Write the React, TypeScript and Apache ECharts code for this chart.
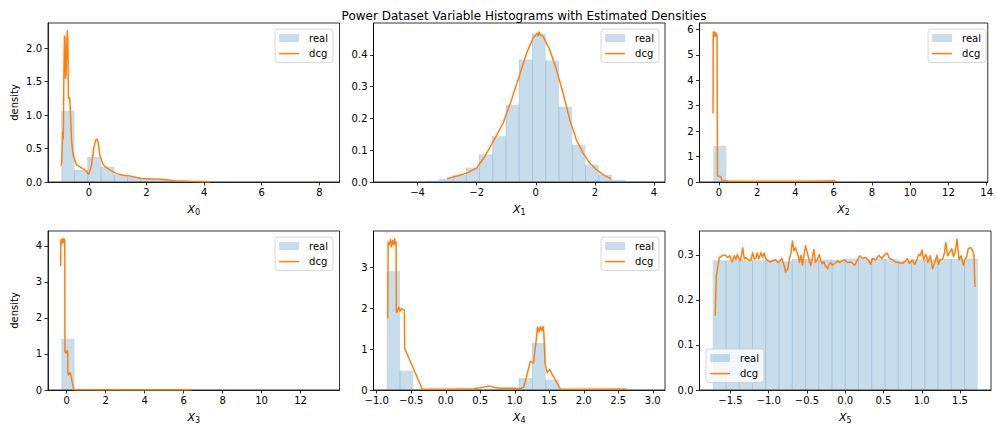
import React, { useEffect, useRef } from "react";
import * as echarts from "echarts";

const TITLE = "Power Dataset Variable Histograms with Estimated Densities";
const VAR_SUBS = ["0", "1", "2", "3", "4", "5"];

// axis ranges
const X_RANGES = [
  [-1.42, 8.7],
  [-5.49, 4.37],
  [-1.02, 14.06],
  [-0.96, 14.0],
  [-1.047, 3.177],
  [-1.905, 1.905],
];
const Y_MAX = [2.375, 0.5, 6.25, 4.41, 3.89, 0.353];

// tick labels
const X_TICKS = [
  [0, 2, 4, 6, 8],
  [-4, -2, 0, 2, 4],
  [0, 2, 4, 6, 8, 10, 12, 14],
  [0, 2, 4, 6, 8, 10, 12],
  [-1.0, -0.5, 0.0, 0.5, 1.0, 1.5, 2.0, 2.5, 3.0],
  [-1.5, -1.0, -0.5, 0.0, 0.5, 1.0, 1.5],
];
const X_DEC = [0, 0, 0, 0, 1, 1];
const Y_TICKS = [
  [0, 0.5, 1.0, 1.5, 2.0],
  [0, 0.1, 0.2, 0.3, 0.4],
  [0, 1, 2, 3, 4, 5, 6],
  [0, 1, 2, 3, 4],
  [0, 1, 2, 3],
  [0, 0.1, 0.2, 0.3],
];
const Y_DEC = [1, 1, 0, 0, 0, 1];

// histogram bins (20 bins each): first edge, bin width, heights
const BIN_START = [-0.96, -5.04, -0.3, -0.28, -0.855, -1.732];
const BIN_WIDTH = [0.46, 0.448, 0.685, 0.68, 0.192, 0.1732];

const REAL_0 = [1.065, 0.18, 0.375, 0.228, 0.11, 0.075, 0.045, 0.03, 0.02, 0.012, 0.006, 0.003, 0.002, 0.001, 0.001, 0.0005, 0.0003, 0.0002, 0.0001, 0.0001];
const REAL_1 = [0.0002, 0.0005, 0.001, 0.004, 0.01, 0.023, 0.045, 0.087, 0.144, 0.243, 0.385, 0.467, 0.382, 0.237, 0.117, 0.055, 0.023, 0.007, 0.002, 0.0005];
const REAL_2 = [1.42, 0.025, 0.012, 0.006, 0.004, 0.003, 0.002, 0.002, 0.001, 0.001, 0.001, 0.0005, 0.0005, 0.0005, 0.0003, 0.0003, 0.0002, 0.0002, 0.0001, 0.0001];
const REAL_3 = [1.42, 0.005, 0.002, 0.002, 0.001, 0.001, 0.001, 0.001, 0.0008, 0.0008, 0.0006, 0.0006, 0.0005, 0.0005, 0.0004, 0.0004, 0.0003, 0.0003, 0.0002, 0.0002];
const REAL_4 = [2.91, 0.475, 0.005, 0.003, 0.002, 0.003, 0.008, 0.02, 0.015, 0.01, 0.29, 1.15, 0.25, 0.005, 0.003, 0.002, 0.002, 0.002, 0.001, 0.001];
const REAL_5 = [0.288, 0.288, 0.289, 0.288, 0.289, 0.286, 0.291, 0.291, 0.29, 0.289, 0.292, 0.291, 0.292, 0.291, 0.287, 0.29, 0.29, 0.291, 0.291, 0.292];

// estimated densities [x, density]
const DCG_0 = [
  [-0.97, 0.245], [-0.94, 0.3], [-0.91, 0.75], [-0.89, 0.65], [-0.87, 1.5], [-0.85, 2.18], [-0.83, 2.15],
  [-0.81, 1.55], [-0.79, 1.6], [-0.77, 2.0], [-0.75, 2.26], [-0.73, 2.1], [-0.71, 1.25], [-0.68, 1.26],
  [-0.66, 1.23], [-0.6, 0.6], [-0.545, 0.4], [-0.43, 0.255], [-0.31, 0.225], [-0.14, 0.18], [0.0, 0.115],
  [0.09, 0.255], [0.17, 0.505], [0.24, 0.63], [0.28, 0.64], [0.32, 0.6], [0.38, 0.4], [0.475, 0.28],
  [0.555, 0.23], [0.73, 0.18], [0.96, 0.125], [1.19, 0.1], [1.42, 0.09], [1.77, 0.055], [2.0, 0.05],
  [2.5, 0.04], [3.0, 0.02], [3.5, 0.01], [4.2, 0.005],
];
const DCG_1 = [
  [-3.0, 0.01], [-2.69, 0.018], [-2.34, 0.028], [-2.0, 0.044], [-1.72, 0.081], [-1.44, 0.128],
  [-1.1, 0.186], [-0.82, 0.259], [-0.54, 0.338], [-0.31, 0.406], [-0.09, 0.453], [0.0, 0.462],
  [0.05, 0.468], [0.08, 0.46], [0.11, 0.472], [0.15, 0.463], [0.25, 0.458], [0.47, 0.416],
  [0.7, 0.353], [0.92, 0.28], [1.15, 0.196], [1.37, 0.133], [1.6, 0.091], [1.82, 0.06],
  [2.05, 0.039], [2.27, 0.023], [2.55, 0.01],
];
const DCG_2 = [
  [-0.31, 2.7], [-0.3, 5.9], [-0.285, 5.75], [-0.27, 5.92], [-0.255, 5.78], [-0.24, 5.88], [-0.225, 5.72],
  [-0.21, 5.85], [-0.195, 5.8], [-0.18, 5.87], [-0.165, 5.75], [-0.15, 5.83], [-0.13, 5.8], [-0.1, 5.78],
  [-0.08, 0.24], [0.0, 0.22], [0.09, 0.22], [0.155, 0.06], [0.5, 0.04], [2.0, 0.03], [4.0, 0.03],
  [5.5, 0.04], [6.1, 0.05],
];
const DCG_3 = [
  [-0.31, 3.43], [-0.3, 4.12], [-0.28, 4.18], [-0.26, 4.05], [-0.24, 4.17], [-0.22, 4.1], [-0.2, 4.19],
  [-0.18, 4.08], [-0.16, 4.15], [-0.14, 4.2], [-0.12, 4.12], [-0.1, 4.17], [-0.09, 1.1], [-0.06, 1.03],
  [-0.03, 1.08], [0.0, 1.02], [0.03, 1.09], [0.05, 1.05], [0.06, 0.45], [0.09, 0.42], [0.12, 0.48],
  [0.15, 0.43], [0.18, 0.47], [0.2, 0.44], [0.36, 0.01], [1.0, 0.004], [3.0, 0.003], [5.0, 0.003], [6.4, 0.002],
];
const DCG_4 = [
  [-0.84, 1.75], [-0.835, 3.62], [-0.82, 3.55], [-0.8, 3.68], [-0.79, 3.5], [-0.77, 3.66], [-0.76, 3.56],
  [-0.74, 3.7], [-0.73, 3.55], [-0.72, 3.62], [-0.715, 1.9], [-0.7, 1.95], [-0.68, 2.02], [-0.66, 1.93],
  [-0.64, 2.0], [-0.62, 1.97], [-0.6, 1.96], [-0.595, 1.02], [-0.34, 0.02], [0.0, 0.02], [0.4, 0.03],
  [0.55, 0.07], [0.63, 0.1], [0.7, 0.06], [0.8, 0.04], [1.0, 0.04], [1.08, 0.03], [1.13, 0.07],
  [1.18, 0.39], [1.225, 0.7], [1.27, 0.655], [1.31, 1.21], [1.33, 1.54], [1.35, 1.42], [1.37, 1.55],
  [1.39, 1.45], [1.41, 1.55], [1.42, 1.44], [1.44, 0.64], [1.47, 0.43], [1.51, 0.5], [1.54, 0.39],
  [1.57, 0.3], [1.66, 0.025], [2.0, 0.02], [2.62, 0.025],
];
const DCG_5 = [
  [-1.7, 0.165], [-1.685, 0.253], [-1.647, 0.294], [-1.613, 0.298], [-1.57, 0.3], [-1.54, 0.294], [-1.51, 0.298],
  [-1.48, 0.284], [-1.45, 0.298], [-1.43, 0.289], [-1.41, 0.301], [-1.39, 0.292], [-1.37, 0.287], [-1.34, 0.316],
  [-1.32, 0.291], [-1.3, 0.294], [-1.28, 0.291], [-1.25, 0.287], [-1.23, 0.289], [-1.21, 0.305], [-1.19, 0.291],
  [-1.17, 0.292], [-1.15, 0.304], [-1.13, 0.291], [-1.1, 0.305], [-1.08, 0.294], [-1.06, 0.304], [-1.04, 0.292],
  [-1.01, 0.287], [-0.98, 0.284], [-0.95, 0.287], [-0.91, 0.289], [-0.88, 0.283], [-0.85, 0.287], [-0.83, 0.292],
  [-0.8, 0.277], [-0.78, 0.262], [-0.75, 0.269], [-0.73, 0.291], [-0.71, 0.304], [-0.69, 0.331], [-0.67, 0.309],
  [-0.65, 0.316], [-0.62, 0.301], [-0.6, 0.283], [-0.58, 0.299], [-0.56, 0.277], [-0.54, 0.298], [-0.52, 0.32],
  [-0.49, 0.301], [-0.47, 0.287], [-0.45, 0.276], [-0.43, 0.294], [-0.41, 0.312], [-0.39, 0.283], [-0.36, 0.291],
  [-0.34, 0.301], [-0.32, 0.287], [-0.3, 0.28], [-0.28, 0.285], [-0.26, 0.276], [-0.23, 0.269], [-0.21, 0.28],
  [-0.19, 0.283], [-0.17, 0.277], [-0.13, 0.282], [-0.1, 0.287], [-0.078, 0.283], [-0.013, 0.289], [0.03, 0.283],
  [0.074, 0.284], [0.125, 0.277], [0.16, 0.289], [0.19, 0.298], [0.225, 0.292], [0.268, 0.294], [0.311, 0.286],
  [0.333, 0.279], [0.355, 0.292], [0.398, 0.289], [0.441, 0.299], [0.476, 0.292], [0.519, 0.301], [0.549, 0.304],
  [0.571, 0.294], [0.614, 0.289], [0.657, 0.284], [0.7, 0.283], [0.744, 0.281], [0.787, 0.286], [0.809, 0.292],
  [0.839, 0.281], [0.873, 0.289], [0.908, 0.279], [0.938, 0.29], [0.96, 0.301], [0.981, 0.298], [1.003, 0.311],
  [1.025, 0.289], [1.055, 0.301], [1.081, 0.283], [1.111, 0.298], [1.142, 0.269], [1.176, 0.286], [1.198, 0.299],
  [1.219, 0.279], [1.241, 0.289], [1.271, 0.29], [1.297, 0.304], [1.314, 0.327], [1.34, 0.298], [1.371, 0.307],
  [1.392, 0.314], [1.414, 0.296], [1.435, 0.305], [1.461, 0.335], [1.487, 0.289], [1.513, 0.298], [1.544, 0.277],
  [1.565, 0.29], [1.587, 0.296], [1.608, 0.314], [1.643, 0.316], [1.665, 0.309], [1.682, 0.301], [1.695, 0.229],
];

const REAL = [REAL_0, REAL_1, REAL_2, REAL_3, REAL_4, REAL_5];
const DCG = [DCG_0, DCG_1, DCG_2, DCG_3, DCG_4, DCG_5];

// layout
const GRID_LEFT = [48, 373.5, 699.5];
const GRID_TOP = [23, 231];
const GRID_W = 291.5;
const GRID_H = 159;
const FONT = "DejaVu Sans";
const BAR_COLOR = "rgba(31,119,180,0.25)";
const BAR_EDGE = "rgba(31,119,180,0.22)";
const LINE_COLOR = "#ff7f0e";
const LEGEND_POS = [
  { right: 663, top: 29 },
  { right: 337, top: 29 },
  { right: 10, top: 29 },
  { right: 663, top: 237 },
  { right: 337, top: 237 },
  { left: 706, top: 349 },
];

function fmt(v: number, d: number) {
  const s = Number(v).toFixed(d);
  return s.replace("-", "\u2212");
}

export default function App() {
  const ref = useRef<HTMLDivElement>(null);
  useEffect(() => {
    if (!ref.current) return;
    const chart = echarts.init(ref.current, null, { renderer: "svg" });
    const grids: any[] = [];
    const xAxes: any[] = [];
    const yAxes: any[] = [];
    const series: any[] = [];
    const legends: any[] = [];
    for (let i = 0; i < 6; i++) {
      const row = Math.floor(i / 3);
      const col = i % 3;
      grids.push({
        left: GRID_LEFT[col],
        top: GRID_TOP[row],
        width: GRID_W,
        height: GRID_H,
        show: true,
        borderColor: "#000",
        borderWidth: 0.8,
        backgroundColor: "transparent",
      });
      const xd = X_DEC[i];
      const yd = Y_DEC[i];
      xAxes.push({
        type: "value",
        gridIndex: i,
        min: X_RANGES[i][0],
        max: X_RANGES[i][1],
        name: `{i|X}{s|${VAR_SUBS[i]}}`,
        nameLocation: "middle",
        nameGap: 20,
        nameTextStyle: {
          rich: {
            i: { fontStyle: "italic", fontSize: 11, fontFamily: FONT, color: "#000", lineHeight: 14 },
            s: { fontSize: 8, fontFamily: FONT, color: "#000", lineHeight: 8, verticalAlign: "bottom" },
          },
        },
        splitLine: { show: false },
        axisLine: { show: true, onZero: false, lineStyle: { color: "#000", width: 0.8 } },
        axisTick: { show: true, length: 3.5, customValues: X_TICKS[i], lineStyle: { color: "#000", width: 0.8 } },
        axisLabel: {
          customValues: X_TICKS[i],
          fontSize: 10,
          fontFamily: FONT,
          color: "#000",
          margin: 5,
          formatter: (v: number) => fmt(v, xd),
        },
      });
      yAxes.push({
        type: "value",
        gridIndex: i,
        min: 0,
        max: Y_MAX[i],
        name: col === 0 ? "density" : "",
        nameLocation: "middle",
        nameGap: 29,
        nameTextStyle: { fontSize: 10, fontFamily: FONT, color: "#000" },
        splitLine: { show: false },
        axisLine: { show: true, onZero: false, lineStyle: { color: "#000", width: 0.8 } },
        axisTick: { show: true, length: 3.5, customValues: Y_TICKS[i], lineStyle: { color: "#000", width: 0.8 } },
        axisLabel: {
          customValues: Y_TICKS[i],
          fontSize: 10,
          fontFamily: FONT,
          color: "#000",
          margin: 6,
          formatter: (v: number) => fmt(v, yd),
        },
      });
      const bins = REAL[i].map((h, k) => [
        BIN_START[i] + k * BIN_WIDTH[i],
        BIN_START[i] + (k + 1) * BIN_WIDTH[i],
        h,
      ]);
      series.push({
        name: "real",
        type: "custom",
        xAxisIndex: i,
        yAxisIndex: i,
        data: bins,
        encode: { x: [0, 1], y: 2 },
        itemStyle: { color: BAR_COLOR },
        z: 1,
        renderItem: (params: any, api: any) => {
          const p0 = api.coord([api.value(0), api.value(2)]);
          const p1 = api.coord([api.value(1), 0]);
          const children: any[] = [
            {
              type: "rect",
              shape: { x: p0[0], y: p0[1], width: p1[0] - p0[0], height: p1[1] - p0[1] },
              style: { fill: BAR_COLOR },
            },
          ];
          if (params.dataIndex > 0 && p1[1] - p0[1] > 1) {
            children.push({
              type: "line",
              shape: { x1: p0[0], y1: p0[1], x2: p0[0], y2: p1[1] },
              style: { stroke: BAR_EDGE, lineWidth: 1 },
            });
          }
          return { type: "group", children };
        },
      });
      series.push({
        name: "dcg",
        type: "line",
        xAxisIndex: i,
        yAxisIndex: i,
        data: DCG[i],
        symbol: "none",
        showSymbol: false,
        z: 3,
        itemStyle: { color: LINE_COLOR },
        lineStyle: { color: LINE_COLOR, width: 1.5, join: "round" },
      });
      legends.push({
        ...LEGEND_POS[i],
        orient: "vertical",
        align: "left",
        data: [
          { name: "real", icon: "rect", itemStyle: { color: BAR_COLOR } },
          { name: "dcg", icon: "path://M0,0H40V3H0Z", itemStyle: { color: LINE_COLOR } },
        ],
        itemWidth: 20,
        itemHeight: 8,
        itemGap: 3.6,
        padding: [3, 5, 3, 4],
        borderColor: "#cccccc",
        borderWidth: 0.8,
        borderRadius: 3,
        backgroundColor: "rgba(255,255,255,0.8)",
        selectedMode: false,
        textStyle: { fontSize: 10, fontFamily: FONT, color: "#000", lineHeight: 12, padding: [0, 0, 0, 5] },
      });
    }
    chart.setOption({
      animation: false,
      backgroundColor: "#fff",
      title: {
        text: TITLE,
        left: 519,
        top: 5,
        textAlign: "center",
        textStyle: { fontSize: 12, fontWeight: "normal", fontFamily: FONT, color: "#000" },
      },
      grid: grids,
      xAxis: xAxes,
      yAxis: yAxes,
      legend: legends,
      series,
    });
    return () => chart.dispose();
  }, []);
  return (
    <div
      ref={ref}
      style={{ position: "absolute", left: 0, top: 0, width: 996, height: 425 }}
    />
  );
}
